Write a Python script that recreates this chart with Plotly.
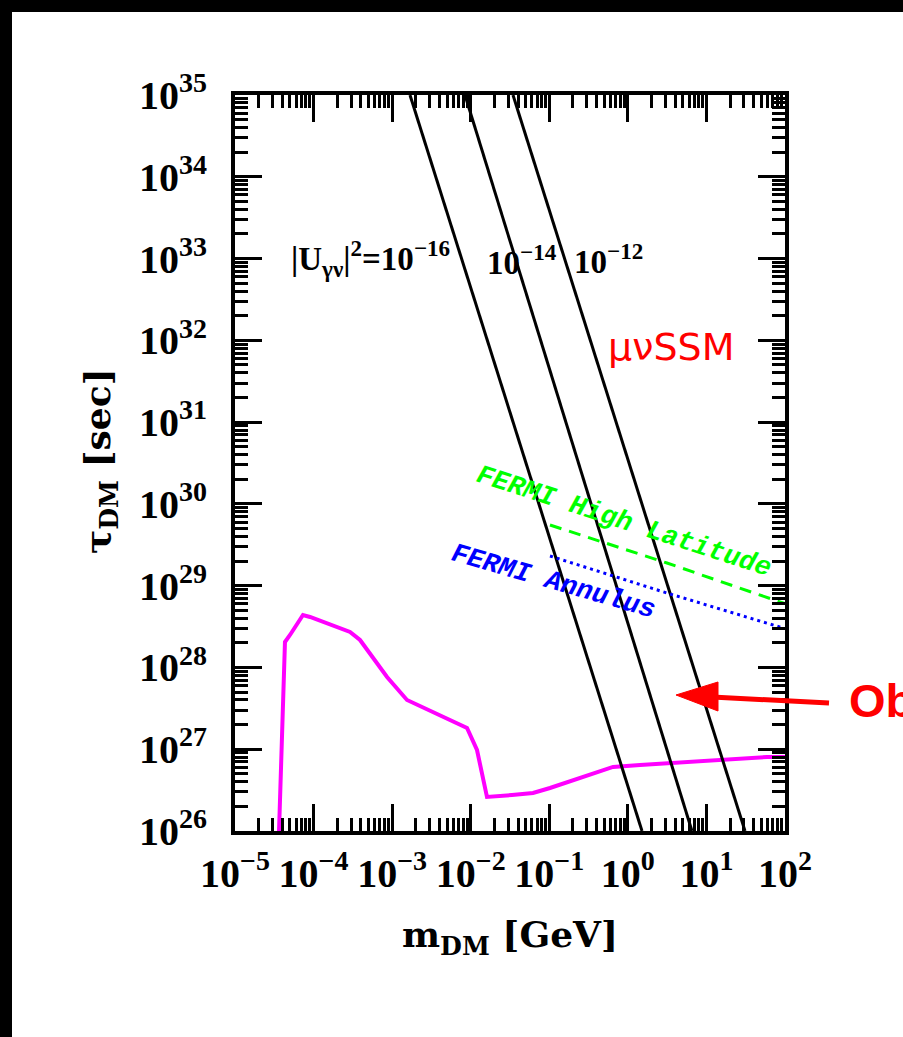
import numpy as np
import plotly.graph_objects as go

# ---------------- data (log10 values) ----------------
# gravitino lifetime lines for three mixing values |U|^2
mix_labels = ["1e-16", "1e-14", "1e-12"]
mix_logm_top = [-2.773, -2.073, -1.462]   # at tau = 1e35
mix_logm_bot = [0.180, 0.816, 1.491]      # at tau = 1e26
mix_logtau = [35.0, 26.0]

# magenta constraint curve
mag_logm = [-4.440, -4.402, -4.389, -4.364, -4.300, -4.135, -4.045, -3.753, -3.536,
            -3.409, -3.065, -2.811, -2.480, -2.047, -1.920, -1.793, -1.475, -1.207,
            -0.991, -0.609, -0.189, 0.155, 0.575, 1.173, 1.771, 2.0]
mag_logtau = [25.99, 27.113, 27.761, 28.311, 28.397, 28.641, 28.617, 28.519, 28.434,
              28.336, 27.883, 27.602, 27.455, 27.260, 26.991, 26.416, 26.440, 26.465,
              26.526, 26.649, 26.783, 26.808, 26.832, 26.870, 26.905, 26.905]

# FERMI bounds
hl_logm = [-0.991, 0.498, 2.0]
hl_logtau = [29.742, 29.277, 28.78]
an_logm = [-0.991, 0.498, 2.0]
an_logtau = [29.363, 28.910, 28.475]

# axes
x_tickvals = [1e-5, 1e-4, 1e-3, 1e-2, 1e-1, 1e0, 1e1, 1e2]
x_ticktext = ["10<sup>−5</sup>", "10<sup>−4</sup>", "10<sup>−3</sup>", "10<sup>−2</sup>",
              "10<sup>−1</sup>", "10<sup>0</sup>", "10<sup>1</sup>", "10<sup>2</sup>"]
y_tickvals = [1e26, 1e27, 1e28, 1e29, 1e30, 1e31, 1e32, 1e33, 1e34, 1e35]
y_ticktext = ["10<sup>%d</sup>" % e for e in range(26, 36)]

# ---------------- layout geometry ----------------
W, H = 903, 1037
L, R, T, B = 235, 785, 95, 831


def px(x):
    return (x - L) / (R - L)


def py(y):
    return (B - y) / (B - T)


fig = go.Figure()

fig.add_trace(go.Scatter(x=np.power(10.0, mag_logm), y=np.power(10.0, mag_logtau),
                         mode="lines", line=dict(color="#FF00FF", width=4),
                         name="constraint"))
for i in range(3):
    fig.add_trace(go.Scatter(x=[10 ** mix_logm_top[i], 10 ** mix_logm_bot[i]],
                             y=[10 ** mix_logtau[0], 10 ** mix_logtau[1]],
                             mode="lines", line=dict(color="black", width=3),
                             name=mix_labels[i]))
fig.add_trace(go.Scatter(x=np.power(10.0, hl_logm), y=np.power(10.0, hl_logtau),
                         mode="lines", line=dict(color="#00FF00", width=3, dash="12px,8px"),
                         name="FERMI High Latitude"))
fig.add_trace(go.Scatter(x=np.power(10.0, an_logm), y=np.power(10.0, an_logtau),
                         mode="lines", line=dict(color="#0000FF", width=3, dash="3px,4px"),
                         name="FERMI Annulus"))

tickfont = dict(family="Liberation Serif", size=40, color="black", weight="bold")
common = dict(type="log", showline=True, linewidth=4, linecolor="black", mirror="allticks",
              ticks="inside", ticklen=27, tickwidth=3, tickcolor="black",
              showgrid=False, zeroline=False, tickfont=tickfont,
              minor=dict(dtick="D1", ticks="inside", ticklen=13, tickwidth=2.5,
                         tickcolor="black", showgrid=False))
fig.update_xaxes(range=[-5, 2], tickmode="array", tickvals=x_tickvals, ticktext=x_ticktext,
                 ticklabelstandoff=4, **common)
fig.update_yaxes(range=[26, 35], tickmode="array", tickvals=y_tickvals, ticktext=y_ticktext,
                 ticklabelstandoff=16, **common)

serif_b = dict(family="Liberation Serif", color="black", weight="bold")
title_f = dict(family="DejaVu Serif", size=36, color="black", weight="bold")
ann = [
    dict(x=px(370), y=py(258), text="|U<sub>γν</sub>|<sup>2</sup>=10<sup>−16</sup>",
         font=dict(size=33, **serif_b)),
    dict(x=px(522), y=py(260), text="10<sup>−14</sup>", font=dict(size=33, **serif_b)),
    dict(x=px(608), y=py(259), text="10<sup>−12</sup>", font=dict(size=33, **serif_b)),
    dict(x=px(671), y=py(347), text="μνSSM",
         font=dict(family="DejaVu Sans", size=38, color="#FF0000")),
    dict(x=px(624), y=py(522), text="FERMI High Latitude", textangle=18,
         font=dict(family="Liberation Mono", size=27, color="#00FF00", weight="bold",
                   style="italic")),
    dict(x=px(553), y=py(582), text="FERMI Annulus", textangle=16,
         font=dict(family="Liberation Mono", size=27, color="#0000FF", weight="bold",
                   style="italic")),
    dict(x=px(100), y=py(461), text="τ<sub>DM</sub> [sec]", textangle=-90, font=title_f),
    dict(x=px(510), y=py(937), text="m<sub>DM</sub> [GeV]", font=title_f),
    dict(x=px(847), y=py(700), text="Ob", xanchor="left",
         font=dict(family="Liberation Sans", size=47, color="#FF0000", weight="bold")),
]
for a in ann:
    a.setdefault("xanchor", "center")
    a.update(xref="paper", yref="paper", yanchor="middle", showarrow=False)

shapes = [
    # slide frame (black border top and left)
    dict(type="rect", xref="paper", yref="paper", x0=px(0), x1=px(12), y0=py(H), y1=py(0),
         fillcolor="black", line=dict(width=0)),
    dict(type="rect", xref="paper", yref="paper", x0=px(0), x1=px(W), y0=py(12), y1=py(0),
         fillcolor="black", line=dict(width=0)),
    # red arrow
    dict(type="line", xref="paper", yref="paper", x0=px(829), y0=py(703), x1=px(712), y1=py(697),
         line=dict(color="#FF0000", width=5)),
    dict(type="path", xref="paper", yref="paper",
         path="M %f,%f L %f,%f L %f,%f Z" % (px(676), py(695), px(718), py(682), px(718), py(711)),
         fillcolor="#FF0000", line=dict(color="#FF0000", width=1)),
]

fig.update_layout(width=W, height=H, margin=dict(l=L, r=W - R, t=T, b=H - B, pad=0),
                  plot_bgcolor="white", paper_bgcolor="white", showlegend=False,
                  annotations=ann, shapes=shapes)

fig.write_html("out.html")
